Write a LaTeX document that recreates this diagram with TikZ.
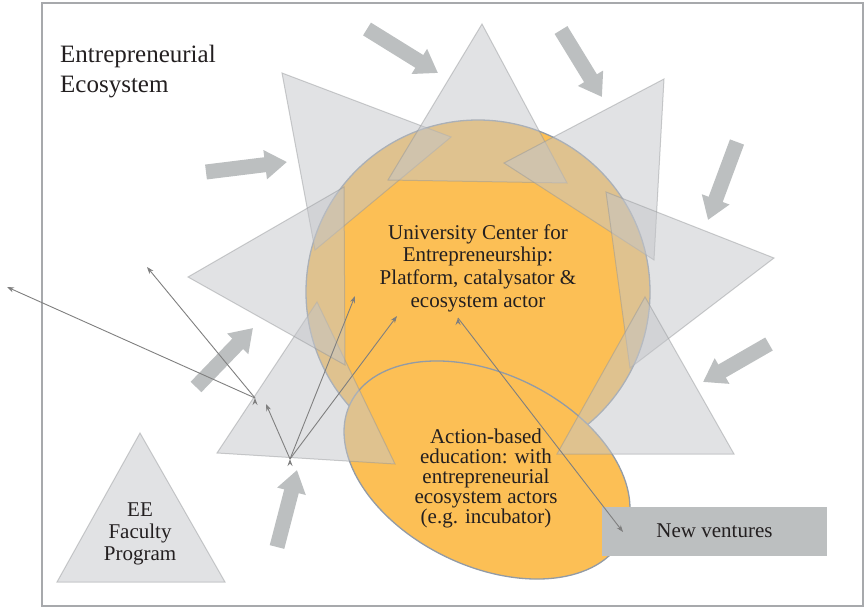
\documentclass[tikz,border=0pt]{standalone}
\usepackage{fontspec}
\setmainfont{Liberation Serif}
\usepackage{color}
\usepackage{tikz}
\usetikzlibrary{arrows.meta}

\definecolor{orangefill}{HTML}{FCBF55}
\definecolor{rimgray}{HTML}{929BA6}
\definecolor{raygray}{HTML}{C3C5C9}
\definecolor{pushgray}{HTML}{BCBFC0}
\definecolor{framegray}{HTML}{A7A9AC}
\definecolor{inkgray}{HTML}{231F20}
\definecolor{linkgray}{HTML}{7F7F7F}

\begin{document}
\begin{tikzpicture}[x=1pt,y=-1pt,
  ray/.style={fill=raygray,fill opacity=0.5,draw=raygray!75!black,draw opacity=0.45,line width=1pt},
  push/.style={draw=pushgray,line width=15pt,-{Triangle[length=22pt,width=28pt]}},
  link/.style={draw=linkgray,line width=0.9pt,-{Stealth[length=7pt,width=5pt]}},
  words/.style={align=center,text=inkgray,inner sep=0pt,font=\fontsize{21}{22}\selectfont}]
  \useasboundingbox (0,0) rectangle (865,608);
  \draw[framegray,line width=1.8pt] (42,3) rectangle (863,606);

  \node at (478,292) [circle,draw=rimgray,fill=orangefill,line width=1.3pt,minimum size=344pt,inner sep=0pt] (hub) {};
  \filldraw[draw=rimgray,fill=orangefill,line width=1.3pt,rotate around={-26:(487,470)}] (487,470) ellipse [x radius=152, y radius=96];

  \filldraw[ray] (282,73) -- (451,137) -- (315,250) -- cycle;
  \filldraw[ray] (482,24) -- (388,180) -- (567,183) -- cycle;
  \filldraw[ray] (664,79) -- (504,163) -- (654,260) -- cycle;
  \filldraw[ray] (606,192) -- (774,258) -- (630,368) -- cycle;
  \filldraw[ray] (645,297) -- (557,454) -- (734,454) -- cycle;
  \filldraw[ray] (317,302) -- (217,453) -- (395,464) -- cycle;
  \filldraw[ray] (188,277) -- (344,187) -- (345,365) -- cycle;
  \filldraw[ray] (140,433) -- (57,582) -- (225,582) -- cycle;

  \draw[push] (367,29) -- (438,73);
  \draw[push] (561,30) -- (602,97);
  \draw[push] (737,142) -- (708,220);
  \draw[push] (769,344) -- (703,382);
  \draw[push] (206,172) -- (287,162);
  \draw[push] (196,387) -- (253,328);
  \draw[push] (277,547) -- (297,470);

  \node at (60,45) [anchor=north west,inner sep=0pt,align=left,text=inkgray,font=\fontsize{25}{30}\selectfont] (title) {Entrepreneurial\\Ecosystem};
  \node at (478,268) [words,font=\fontsize{21}{22.7}\selectfont] (hubtext) {University Center for\\Entrepreneurship:\\Platform, catalysator \&\\ecosystem actor};
  \node at (486,478) [words,font=\fontsize{21}{20}\selectfont] (edutext) {Action-based\\education: with\\entrepreneurial\\ecosystem actors\\(e.g. incubator)};
  \node at (140,534) [words] (faculty) {EE\\Faculty\\Program};
  \node at (714.5,531) [words,fill=pushgray,minimum width=225pt,minimum height=49pt] (nv) {New ventures};

  \coordinate (fanA) at (255,398);
  \coordinate (fanB) at (290,459);
  \coordinate (farleft) at (7,287);
  \coordinate (upleft) at (147,267);
  \coordinate (shortup) at (266,404);
  \coordinate (hubleft) at (355,296);
  \coordinate (hubmid) at (397,316);
  \coordinate (hubfoot) at (458,318);
  \coordinate (nventry) at (623,532);

  \path[link] (fanA) edge (farleft) (fanA) edge (upleft);
  \path[link] (fanB) edge (shortup) (fanB) edge (hubleft) (fanB) edge (hubmid);
  \path[link] (hubfoot) edge (nventry);
\end{tikzpicture}
\end{document}
